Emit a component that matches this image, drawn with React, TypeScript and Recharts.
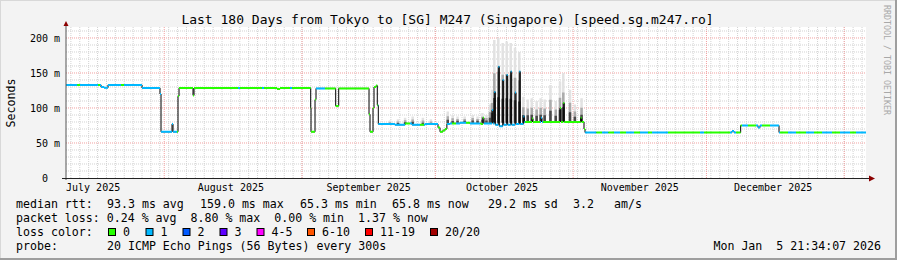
import {ComposedChart, Line, XAxis, YAxis, ReferenceLine, CartesianGrid} from "recharts";

const W = 897;
const H = 260;
const MONO = "'DejaVu Sans Mono', monospace";

// x = days since 2025-07-01 00:00, window is the last 180 days up to Jan 5 21:34
const START = 8.9;
const END = 188.9;
const Y_MAX = 215.7;

const monthStarts = [31, 62, 92, 123, 153, 184];
const monthLabelDays = [15, 46, 77, 107, 138, 168];
const monthLabels = ["July 2025", "August 2025", "September 2025", "October 2025", "November 2025", "December 2025"];

const yTicks = [0, 50, 100, 150, 200];
const yTickLabels = ["0\u00a0\u00a0", "50 m", "100 m", "150 m", "200 m"];

// median rtt (ms), step changes
const medianDays = [
  8.9, 16.78, 17.45, 18.35, 26.0, 30.05, 30.28, 32.75, 32.98, 34.1, 34.33, 37.48, 37.7, 56.4, 57.05,
  63.96, 64.03, 64.93, 65.15, 69.58, 70.26, 77.08, 77.3, 77.98, 78.2, 78.65, 78.94, 79.17,
  82.9, 85.2, 86.75, 89.7, 92.6, 93.05, 93.7, 94.2, 94.6, 95.3, 97.55, 99.8,
  102.28, 102.7, 102.95, 104.75, 104.98, 105.27, 105.5, 106.17, 106.4, 107.16, 107.38, 108.06, 108.28,
  108.96, 109.18, 109.93, 110.15, 110.89, 111.12, 111.8, 112.03,
  113.75, 113.98, 115.78, 116.0, 120.05, 120.28, 120.79, 121.02, 124.7, 124.93, 125.45, 125.68,
  158.75, 159.2, 160.7, 164.6, 165.05, 169.33, 188.9,
];
const medianMs = [
  133, 130, 129, 133, 128.5, 120, 66, 77, 66, 117, 128.5, 118, 128.5, 127, 128.5,
  100, 66, 112, 128, 103, 128, 91, 66, 100, 130, 132, 104, 77,
  76, 78, 76, 77, 72, 66, 68, 70, 77, 78, 79, 78,
  77, 86, 78, 97, 78, 123, 76, 159, 74, 140, 76, 147, 76,
  152, 76, 122, 77, 152, 77, 88, 80,
  85, 80, 86, 80, 100, 80, 107, 80, 86, 80, 70, 65,
  67, 65, 75, 72, 75, 65, 65,
];

// loss colour changes (0 = no loss, 1 = 1/20)
const lossDays = [
  8.9, 11.4, 12.05, 16.1, 16.55, 21.28, 21.95, 33.87, 47.6, 48.05, 53.0, 53.45, 59.3, 59.75, 65.15, 67.18,
  79.1, 85.18, 86.3, 88.55, 89.45, 92.6, 94.63, 95.75, 96.65, 98.9, 99.8, 102.05, 102.95, 112.18, 115.55,
  116.2, 125.7, 128.2, 129.5, 130.9, 132.2, 133.55, 134.9, 136.7, 138.05, 139.85, 140.75, 144.35, 151.55,
  152.45, 158.3, 159.65, 161.0, 162.35, 164.15, 165.5, 167.3, 169.55, 171.35, 173.15, 175.4, 177.2, 179.0,
  181.25, 183.05, 185.3, 186.65,
];
const lossLevel = [
  1, 0, 1, 0, 1, 0, 1, 0, 1, 0, 1, 0, 1, 0, 1, 0,
  1, 0, 1, 0, 1, 0, 1, 0, 1, 0, 1, 0, 1, 0, 1,
  0, 1, 0, 1, 0, 1, 0, 1, 0, 1, 0, 1, 0, 1,
  0, 1, 0, 1, 0, 1, 0, 1, 0, 1, 0, 1, 0, 1,
  0, 1, 0, 1,
];

// smoke (spread of the 20 pings)
const smokeDays = [
  81.8, 83.6, 85.2, 86.9, 89.2, 91.0, 94.8, 95.9, 97.0, 98.6, 100.4, 101.5, 102.6, 103.5,
  104.3, 104.75, 105.27, 106.17, 107.16, 108.06, 108.96, 109.93, 110.89, 111.8,
  112.8, 113.7, 114.8, 115.7, 116.6, 117.9, 119.1, 120.05, 120.79, 122.3, 123.4, 124.9,
];
const smokeLoMs = [
  76, 76, 77, 77, 76, 76, 78, 78, 79, 79, 79, 79, 79, 79,
  78, 79, 79, 79, 79, 79, 79, 79, 79, 79,
  80, 80, 80, 80, 80, 80, 80, 80, 80, 80, 80, 80,
];
const smokeTopMs = [
  82, 84, 86, 88, 86, 84, 95, 90, 88, 88, 90, 88, 93, 90,
  105, 126, 197, 200, 193, 195, 193, 186, 180, 116,
  112, 114, 110, 114, 112, 133, 110, 138, 150, 126, 105, 114,
];

const lossColors = ["#26ff00", "#00b8ff", "#0059ff", "#5e00ff", "#ff00ff", "#ff5500", "#ff0000", "#a10000"];
const lossLabels = ["0", "1", "2", "3", "4-5", "6-10", "11-19", "20/20"];

// smoke shades, from the full spread down to the densest part
const smokeShades = [
  {part: 1, color: "#e2e2e2"},
  {part: 0.6, color: "#ababab"},
  {part: 0.3, color: "#4a4a4a"},
];

function stepValue(days: number[], vals: number[], t: number) {
  let v = vals[0];
  for (let i = 0; i < days.length; i++) if (days[i] <= t) v = vals[i];
  return v;
}

const nb = (s: string) => s.replace(/ /g, "\u00a0");

const medianRows = medianDays.map((d, i) => ({d, v: medianMs[i]}));

const smokeLayers = smokeShades.map(({part}) => {
  const rows: {d: number; s: number | null}[] = [];
  smokeDays.forEach((d, i) => {
    const lo = smokeLoMs[i];
    rows.push({d, s: lo}, {d, s: lo + (smokeTopMs[i] - lo) * part}, {d, s: null});
  });
  return rows;
});

// split the median into horizontal runs coloured by loss
const cuts = Array.from(new Set([...medianDays, ...lossDays])).sort((a, b) => a - b);
const lossRuns: {d: number; v: number | null}[][] = [[], []];
for (let i = 0; i < cuts.length - 1; i++) {
  const a = cuts[i];
  const b = cuts[i + 1];
  const v = stepValue(medianDays, medianMs, a);
  const c = stepValue(lossDays, lossLevel, a);
  lossRuns[c].push({d: a, v}, {d: b, v}, {d: b, v: null});
}

const minorX: number[] = [];
for (let d = 10; d < END; d += 2) minorX.push(d);
const minorY: number[] = [];
for (let v = 10; v < Y_MAX; v += 10) if (v % 50 !== 0) minorY.push(v);

const legendRow1 = [
  [16, "median rtt:"], [107, "93.3 ms avg"], [200, "159.0 ms max"], [300, "65.3 ms min"],
  [392, "65.8 ms now"], [488, "29.2 ms sd"], [573, "3.2"], [614, "am/s"],
];
const legendRow2 = "packet loss: 0.24 % avg  8.80 % max  0.00 % min  1.37 % now";
const swatchX = [108, 145.5, 182.5, 219.5, 256.5, 307, 365, 430];

export default function App() {
  return (
    <div style={{position: "absolute", left: 0, top: 0, width: W, height: H, background: "#f3f3f3"}}>
      <ComposedChart width={W} height={H} margin={{top: 27, right: 31, bottom: 62, left: 0}}>
        <CartesianGrid horizontal={false} vertical={false} fill="#ffffff" fillOpacity={1} />
        <XAxis
          type="number"
          dataKey="d"
          domain={[START, END]}
          allowDataOverflow
          ticks={monthLabelDays}
          tickFormatter={(d: number) => monthLabels[monthLabelDays.indexOf(d)]}
          interval={0}
          height={20}
          axisLine={false}
          tickLine={false}
          tickSize={3}
          tickMargin={3}
          tick={{fontFamily: MONO, fontSize: 10, fill: "#000"}}
        />
        <YAxis
          type="number"
          domain={[0, Y_MAX]}
          allowDataOverflow
          ticks={yTicks}
          tickFormatter={(v: number) => yTickLabels[yTicks.indexOf(v)]}
          interval={0}
          width={66}
          axisLine={false}
          tickLine={false}
          tickSize={4}
          tickMargin={2}
          tick={{fontFamily: MONO, fontSize: 10, fill: "#000"}}
        />
        {minorX.map((d) => (
          <ReferenceLine key={"mx" + d} x={d} stroke="#d2d2d2" strokeDasharray="1 1" />
        ))}
        {minorY.map((v) => (
          <ReferenceLine key={"my" + v} y={v} stroke="#d2d2d2" strokeDasharray="1 1" />
        ))}
        {monthStarts.map((d) => (
          <ReferenceLine key={"Mx" + d} x={d} stroke="#f2a0a0" strokeDasharray="1 1" />
        ))}
        {yTicks.slice(1).map((v) => (
          <ReferenceLine key={"My" + v} y={v} stroke="#f2a0a0" strokeDasharray="1 1" />
        ))}
        {smokeLayers.map((rows, i) => (
          <Line
            key={"smoke" + i}
            data={rows}
            dataKey="s"
            type="linear"
            stroke={smokeShades[i].color}
            strokeWidth={2.5}
            strokeLinecap="butt"
            dot={false}
            connectNulls={false}
            isAnimationActive={false}
          />
        ))}
        <Line
          data={medianRows}
          dataKey="v"
          type="stepAfter"
          stroke="#000"
          strokeWidth={1}
          dot={false}
          isAnimationActive={false}
        />
        <Line
          data={lossRuns[0]}
          dataKey="v"
          type="linear"
          stroke={lossColors[0]}
          strokeWidth={2}
          dot={false}
          connectNulls={false}
          isAnimationActive={false}
        />
        <Line
          data={lossRuns[1]}
          dataKey="v"
          type="linear"
          stroke={lossColors[1]}
          strokeWidth={2}
          dot={false}
          connectNulls={false}
          isAnimationActive={false}
        />
      </ComposedChart>

      <svg
        width={W}
        height={H}
        style={{position: "absolute", left: 0, top: 0, pointerEvents: "none"}}
        fontFamily={MONO}
      >
        <text x={447.5} y={24} fontSize={13} textAnchor="middle" fill="#000">
          Last 180 Days from Tokyo to [SG] M247 (Singapore) [speed.sg.m247.ro]
        </text>
        <text transform="translate(15,103) rotate(-90)" fontSize={11.6} textAnchor="middle" fill="#000">
          Seconds
        </text>
        <text transform="translate(884,5) rotate(90)" fontSize={8.3} fill="#a8a8a8">
          RRDTOOL / TOBI OETIKER
        </text>

        <line x1={66} y1={180} x2={66} y2={24} stroke="#555" />
        <line x1={62} y1={178.5} x2={870} y2={178.5} stroke="#222" />
        <polygon points="63.5,26 68.5,26 66,21" fill="#8b0000" />
        <polygon points="869,175.5 869,181.5 875,178.5" fill="#8b0000" />

        {legendRow1.map(([x, t]) => (
          <text key={"a" + x} x={x as number} y={208} fontSize={11.6} fill="#000">{t}</text>
        ))}
        <text x={16} y={222} fontSize={11.6} fill="#000">{nb(legendRow2)}</text>
        <text x={16} y={236} fontSize={11.6} fill="#000">loss color:</text>
        {lossColors.map((c, i) => (
          <g key={c}>
            <rect x={swatchX[i] + 0.5} y={228.5} width={7} height={7} fill={c} stroke="#000" />
            <text x={swatchX[i] + 15} y={236} fontSize={11.6} fill="#000">{lossLabels[i]}</text>
          </g>
        ))}
        <text x={16} y={250} fontSize={11.6} fill="#000">probe:</text>
        <text x={107} y={250} fontSize={11.6} fill="#000">20 ICMP Echo Pings (56 Bytes) every 300s</text>
        <text x={881} y={250} fontSize={11.6} textAnchor="end" fill="#000">
          {nb("Mon Jan  5 21:34:07 2026")}
        </text>

        <rect x={0} y={0} width={W} height={1} fill="#d8d8d8" />
        <rect x={0} y={0} width={1} height={H} fill="#d8d8d8" />
        <rect x={W - 2} y={0} width={2} height={H} fill="#9e9e9e" />
        <rect x={0} y={H - 2} width={W} height={2} fill="#9e9e9e" />
      </svg>
    </div>
  );
}
